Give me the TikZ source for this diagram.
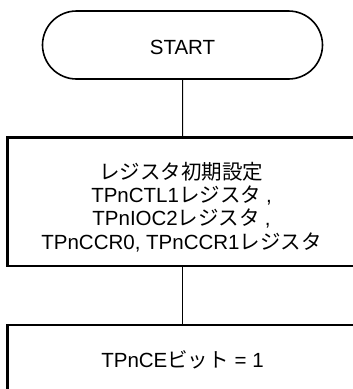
\documentclass[tikz,border=0pt]{standalone}
\usepackage{fontspec}
\setmainfont{Liberation Sans}
\newfontfamily\jpfont{Noto Sans CJK JP}
\newcommand{\jp}[1]{{\jpfont #1}}
\usetikzlibrary{shapes.misc}
\begin{document}
\begin{tikzpicture}[x=1pt,y=1pt,
  txt/.style={inner sep=0pt, align=center, font=\fontsize{20.5}{23.3}\selectfont},
  term/.style={txt, draw, line width=1.6pt, rounded rectangle, minimum width=280pt, minimum height=68pt, text height=19.7pt, text depth=0pt},
  proc/.style={txt, draw, line width=2.4pt, rectangle, minimum width=350pt},
  conn/.style={line width=1pt}]
\useasboundingbox (0,0) rectangle (353,-389);
\node[term] (start) at (182.5,-45) {START};
\node[proc, minimum height=128.5pt] (init) at (182.5,-201.75) {};
\node[txt] (inittext) at (181.5,-207) {\jp{レジスタ初期設定}\\TPnCTL1\jp{レジスタ}\hspace{5pt},\\TPnIOC2\jp{レジスタ}\hspace{5pt},\\TPnCCR0, TPnCCR1\jp{レジスタ}};
\node[proc, minimum height=70pt, text height=14.7pt, text depth=0pt] (ce) at (182.5,-360) {TPnCE\jp{ビット} = 1};
\draw[conn] (start) -- (init);
\draw[conn] (init) -- (ce);
\end{tikzpicture}
\end{document}
